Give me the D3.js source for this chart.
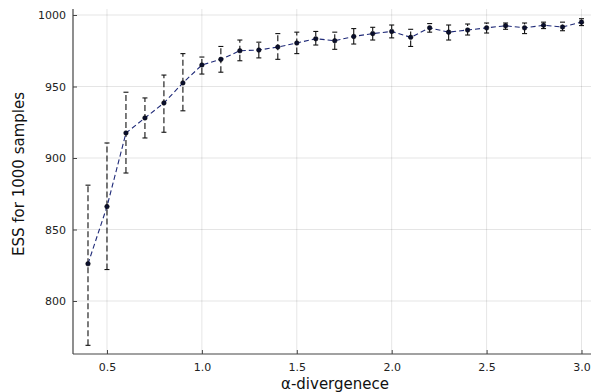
<!DOCTYPE html>
<html>
<head>
<meta charset="utf-8">
<script src="https://cdn.jsdelivr.net/npm/d3@7"></script>
<style>
  body { margin: 0; background: #fff; }
  svg { display: block; font-family: "DejaVu Sans", sans-serif; }
</style>
</head>
<body>
<div id="visual"></div>
<script>
// alpha values on the x axis
var alphas = [0.4, 0.5, 0.6, 0.7, 0.8, 0.9, 1.0, 1.1, 1.2, 1.3, 1.4, 1.5, 1.6, 1.7,
  1.8, 1.9, 2.0, 2.1, 2.2, 2.3, 2.4, 2.5, 2.6, 2.7, 2.8, 2.9, 3.0];
// mean ESS
var essMean = [826, 866, 917.5, 928, 938.5, 952.5, 965, 969, 975, 975.5, 977.6, 980.4, 983.4, 982,
  985, 987, 988.5, 984.4, 991, 988, 989.5, 991, 992.5, 991, 992.8, 991.6, 995];
// error bar ends
var essLow = [769, 822, 889.5, 914, 918, 933, 958.7, 960, 968, 970, 969, 973, 979, 976,
  979.7, 982.5, 984, 978, 988, 982.5, 986, 987.4, 990, 987, 990.5, 989, 992.6];
var essHigh = [881, 910.5, 946, 942, 958, 973, 970.6, 978, 982.5, 981, 987, 988, 988.5, 988,
  990.5, 991.4, 993, 990, 994, 993, 993.7, 994.4, 994.4, 994.4, 995, 995, 997.4];
var xTicks = [0.5, 1.0, 1.5, 2.0, 2.5, 3.0];
var yTicks = [800, 850, 900, 950, 1000];

var width = 592, height = 392;
var pLeft = 73, pRight = 591, pTop = 9, pBottom = 354;

var x = d3.scaleLinear().domain([0.321, 3.05]).range([pLeft, pRight]);
var y = d3.scaleLinear().domain([1000, 800]).range([15, 301]);

var svg = d3.select("#visual").append("svg")
  .attr("width", width)
  .attr("height", height);

// grid
svg.append("g").selectAll("line").data(xTicks).enter().append("line")
  .attr("x1", d => x(d)).attr("x2", d => x(d))
  .attr("y1", pTop).attr("y2", pBottom)
  .attr("stroke", "#000").attr("stroke-opacity", 0.1).attr("stroke-width", 1);
svg.append("g").selectAll("line").data(yTicks).enter().append("line")
  .attr("x1", pLeft).attr("x2", pRight)
  .attr("y1", d => y(d)).attr("y2", d => y(d))
  .attr("stroke", "#000").attr("stroke-opacity", 0.1).attr("stroke-width", 1);

// axes
var xAxis = d3.axisBottom(x).tickValues(xTicks).tickFormat(d3.format(".1f")).tickSizeInner(-4).tickSizeOuter(0).tickPadding(9);
var yAxis = d3.axisLeft(y).tickValues(yTicks).tickFormat(d3.format("d")).tickSizeInner(-4).tickSizeOuter(0).tickPadding(7);

var gx = svg.append("g").attr("transform", "translate(0," + pBottom + ")").call(xAxis);
gx.select(".domain").attr("d", "M" + pLeft + ",0H" + pRight);
var gy = svg.append("g").attr("transform", "translate(" + pLeft + ",0)").call(yAxis);
gy.select(".domain").attr("d", "M0," + pTop + "V" + pBottom);
[gx, gy].forEach(function(g) {
  g.selectAll(".domain").attr("stroke", "#444").attr("stroke-width", 1.2);
  g.selectAll(".tick line").attr("stroke", "#444");
  g.selectAll("text").attr("font-size", 11).attr("fill", "#222")
    .attr("font-family", "DejaVu Sans, sans-serif");
});

var idx = d3.range(alphas.length);

// error bars
var eb = svg.append("g").attr("stroke", "#111").attr("stroke-width", 1.1);
eb.selectAll(".bar").data(idx).enter().append("line")
  .attr("x1", i => x(alphas[i])).attr("x2", i => x(alphas[i]))
  .attr("y1", i => y(essLow[i])).attr("y2", i => y(essHigh[i]))
  .attr("stroke-dasharray", "6,3");
eb.selectAll(".capT").data(idx).enter().append("line")
  .attr("x1", i => x(alphas[i]) - 2.5).attr("x2", i => x(alphas[i]) + 2.5)
  .attr("y1", i => y(essHigh[i])).attr("y2", i => y(essHigh[i]));
eb.selectAll(".capB").data(idx).enter().append("line")
  .attr("x1", i => x(alphas[i]) - 2.5).attr("x2", i => x(alphas[i]) + 2.5)
  .attr("y1", i => y(essLow[i])).attr("y2", i => y(essLow[i]));

// dashed series line
var line = d3.line().x(i => x(alphas[i])).y(i => y(essMean[i]));
svg.append("path").datum(idx)
  .attr("d", line)
  .attr("fill", "none")
  .attr("stroke", "#1f2a78")
  .attr("stroke-width", 1.1)
  .attr("stroke-dasharray", "5,3");

// markers
svg.append("g").selectAll("circle").data(idx).enter().append("circle")
  .attr("cx", i => x(alphas[i])).attr("cy", i => y(essMean[i]))
  .attr("r", 2.3)
  .attr("fill", "#0a0f2e")
  .attr("stroke", "#000").attr("stroke-width", 0.5);

// labels
svg.append("text")
  .attr("x", 335).attr("y", 389)
  .attr("text-anchor", "middle")
  .attr("font-size", 15).attr("fill", "#111")
  .text("α-divergenece");
svg.append("text")
  .attr("transform", "translate(24,174) rotate(-90)")
  .attr("text-anchor", "middle")
  .attr("font-size", 15).attr("fill", "#111")
  .text("ESS for 1000 samples");
</script>
</body>
</html>
